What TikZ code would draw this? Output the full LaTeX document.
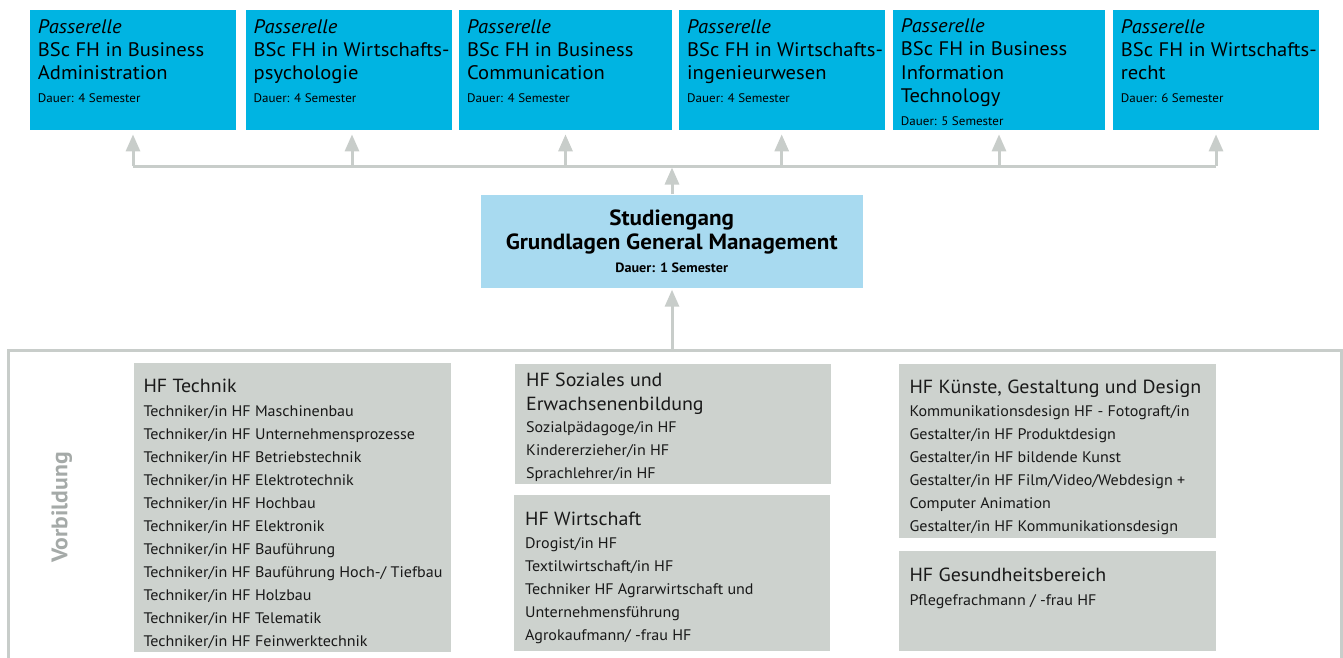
\documentclass[tikz,border=0pt]{standalone}
\usepackage{fontspec}
\setmainfont{PT Sans}[FakeStretch=1.05]
\usetikzlibrary{arrows.meta}
\definecolor{topcyan}{RGB}{0,180,226}
\definecolor{midblue}{RGB}{168,218,240}
\definecolor{boxgray}{RGB}{205,210,206}
\definecolor{linegray}{RGB}{200,205,202}
\definecolor{labelgray}{RGB}{165,170,168}
\definecolor{txt}{RGB}{25,25,25}
\tikzset{
 topbox/.style={fill=topcyan, anchor=north west, inner sep=0pt, minimum height=120pt},
 toptext/.style={anchor=base west, inner sep=0pt, align=left, text=black, font=\fontsize{19.6}{23.3}\selectfont},
 dur/.style={anchor=base west, inner sep=0pt, text=black, font=\fontsize{12.4}{14}\selectfont},
 graybox/.style={fill=boxgray, anchor=north west, inner sep=0pt},
 head/.style={anchor=base west, inner sep=0pt, align=left, text=txt, font=\fontsize{19}{23.3}\selectfont},
 items/.style={anchor=base west, inner sep=0pt, align=left, text=txt, font=\fontsize{15.3}{23}\selectfont},
 conn/.style={draw=linegray, line width=3pt},
 arr/.style={conn, -{Triangle[width=14pt,length=17pt]}},
}
\begin{document}
\begin{tikzpicture}[x=1pt,y=-1pt]
\useasboundingbox (0,0) rectangle (1343,658);
% top boxes
\node[topbox, minimum width=206pt] (p1) at (30,10) {};
\node[topbox, minimum width=206pt] (p2) at (246,10) {};
\node[topbox, minimum width=213pt] (p3) at (459,10) {};
\node[topbox, minimum width=206pt] (p4) at (679,10) {};
\node[topbox, minimum width=212pt] (p5) at (893,10) {};
\node[topbox, minimum width=206pt] (p6) at (1113,10) {};
\node[toptext] (t1) at (37.7,80) {\itshape Passerelle\\BSc FH in Business\\Administration};
\node[toptext] (t2) at (253.5,80) {\itshape Passerelle\\BSc FH in Wirtschafts-\\psychologie};
\node[toptext] (t3) at (467,80) {\itshape Passerelle\\BSc FH in Business\\Communication};
\node[toptext] (t4) at (687,80) {\itshape Passerelle\\BSc FH in Wirtschafts-\\ingenieurwesen};
\node[toptext] (t5) at (900.7,102.5) {\itshape Passerelle\\BSc FH in Business\\Information\\Technology};
\node[toptext] (t6) at (1120.7,80) {\itshape Passerelle\\BSc FH in Wirtschafts-\\recht};
\node[dur] (d1) at (37.7,102.3) {Dauer: 4 Semester};
\node[dur] (d2) at (253.5,102.3) {Dauer: 4 Semester};
\node[dur] (d3) at (467,102.3) {Dauer: 4 Semester};
\node[dur] (d4) at (687,102.3) {Dauer: 4 Semester};
\node[dur] (d5) at (900.7,125) {Dauer: 5 Semester};
\node[dur] (d6) at (1120.7,102.3) {Dauer: 6 Semester};
% middle box
\node[fill=midblue, anchor=north west, inner sep=0pt, minimum width=382pt, minimum height=93pt] (m) at (480.7,194.3) {};
\node[anchor=base, inner sep=0pt, align=center, text=black, font=\bfseries\fontsize{22}{23.3}\selectfont] (mt) at (671.7,249) {Studiengang\\Grundlagen General Management};
\node[anchor=base, inner sep=0pt, text=black, font=\bfseries\fontsize{13.5}{14}\selectfont] (md) at (671.7,272) {Dauer: 1 Semester};
% bus and arrows
\coordinate (b1) at (133,166);
\coordinate (b2) at (352,166);
\coordinate (b3) at (565.5,166);
\coordinate (b4) at (781.7,166);
\coordinate (b5) at (999,166);
\coordinate (b6) at (1216,166);
\coordinate (bm) at (672,167.5);
\draw[conn] (b1) -- (b6);
\draw[arr, shorten >=4pt] (b1) -- (b1 |- p1.south);
\draw[arr, shorten >=4pt] (b2) -- (b2 |- p2.south);
\draw[arr, shorten >=4pt] (b3) -- (b3 |- p3.south);
\draw[arr, shorten >=4pt] (b4) -- (b4 |- p4.south);
\draw[arr, shorten >=4pt] (b5) -- (b5 |- p5.south);
\draw[arr, shorten >=4pt] (b6) -- (b6 |- p6.south);
\draw[arr] (m.north -| bm) -- (bm);
% frame
\coordinate (fl) at (8.3,660);
\coordinate (fr) at (1341.5,660);
\coordinate (ftm) at (672,350.7);
\draw[draw=linegray, line width=2.5pt] (fl) -- (8.3,350.7) -- (1341.5,350.7) -- (fr);
\draw[arr, shorten >=2pt] (ftm) -- (m.south -| ftm);
\node[rotate=90, anchor=center, inner sep=0pt, text=labelgray, font=\bfseries\fontsize{22.5}{24}\selectfont] (vb) at (61.7,507.5) {Vorbildung};
% gray boxes
\node[graybox, minimum width=317pt, minimum height=288.6pt] (g1) at (133.3,362.7) {};
\node[graybox, minimum width=315.7pt, minimum height=120.7pt] (g2) at (515,363.3) {};
\node[graybox, minimum width=316pt, minimum height=155.7pt] (g3) at (514,495) {};
\node[graybox, minimum width=317.7pt, minimum height=174.4pt] (g4) at (898.3,363.3) {};
\node[graybox, minimum width=317.7pt, minimum height=99.7pt] (g5) at (898.3,551) {};
\node[head] (h1) at (143.3,392.7) {HF Technik};
\node[items] (i1) at (143.3,646) {Techniker/in HF Maschinenbau\\Techniker/in HF Unternehmensprozesse\\Techniker/in HF Betriebstechnik\\Techniker/in HF Elektrotechnik\\Techniker/in HF Hochbau\\Techniker/in HF Elektronik\\Techniker/in HF Bauführung\\Techniker/in HF Bauführung Hoch-/ Tiefbau\\Techniker/in HF Holzbau\\Techniker/in HF Telematik\\Techniker/in HF Feinwerktechnik};
\node[head] (h2) at (526,410) {HF Soziales und\\Erwachsenenbildung};
\node[items] (i2) at (526,478.7) {Sozialpädagoge/in HF\\Kindererzieher/in HF\\Sprachlehrer/in HF};
\node[head] (h3) at (525,525) {HF Wirtschaft};
\node[items] (i3) at (525,640.3) {Drogist/in HF\\Textilwirtschaft/in HF\\Techniker HF Agrarwirtschaft und\\Unternehmensführung\\Agrokaufmann/ -frau HF};
\node[head] (h4) at (909.3,393.3) {HF Künste, Gestaltung und Design};
\node[items] (i4) at (909.3,531.3) {Kommunikationsdesign HF - Fotograft/in\\Gestalter/in HF Produktdesign\\Gestalter/in HF bildende Kunst\\Gestalter/in HF Film/Video/Webdesign +\\Computer Animation\\Gestalter/in HF Kommunikationsdesign};
\node[head] (h5) at (909.3,581.7) {HF Gesundheitsbereich};
\node[items] (i5) at (909.3,605) {Pflegefrachmann / -frau HF};
\end{tikzpicture}
\end{document}
